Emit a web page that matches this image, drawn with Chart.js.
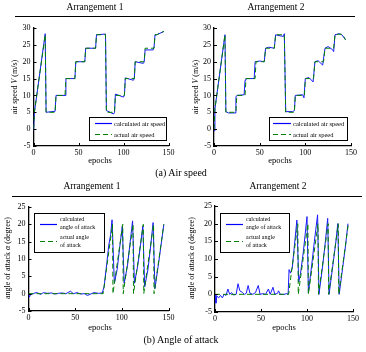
<!DOCTYPE html>
<html>
<head>
<meta charset="utf-8">
<script src="https://cdn.jsdelivr.net/npm/chart.js@4.4.1/dist/chart.umd.min.js"></script>
<style>
  body { margin: 0; background: #fff; }
  #fig { position: relative; width: 366px; height: 352px; overflow: hidden; background: #fff;
         font-family: "Liberation Serif", "Times New Roman", serif; color: #000; }
  #fig canvas { position: absolute; left: 0; top: 0; }
  .t { position: absolute; white-space: nowrap; transform: translate(-50%, -50%); line-height: 1; }
  .rot { transform: translate(-50%, -50%) rotate(-90deg); }
  .rule { position: absolute; border-top: 1px solid #000; height: 0; }
  .leg { position: absolute; border: 1px solid #000; background: #fff; z-index: 5; box-sizing: border-box; }
  .legtxt { position: absolute; white-space: nowrap; line-height: 1; transform: translateY(-50%); z-index: 6; }
  .legline { position: absolute; z-index: 6; }
</style>
</head>
<body>
<div id="fig">
  <canvas id="c1" width="366" height="352"></canvas>
  <canvas id="c2" width="366" height="352"></canvas>
  <canvas id="c3" width="366" height="352"></canvas>
  <canvas id="c4" width="366" height="352"></canvas>

  <!-- titles / rules / captions -->
  <div class="t" style="left:95px;top:8px;font-size:9.5px">Arrangement 1</div>
  <div class="t" style="left:276px;top:8px;font-size:9.5px">Arrangement 2</div>
  <div class="rule" style="left:15px;top:16px;width:340px"></div>
  <div class="t" style="left:181px;top:173px;font-size:10px">(a) Air speed</div>

  <div class="t" style="left:92px;top:187px;font-size:9.5px">Arrangement 1</div>
  <div class="t" style="left:278px;top:187px;font-size:9.5px">Arrangement 2</div>
  <div class="rule" style="left:12px;top:196px;width:350px"></div>
  <div class="t" style="left:181px;top:340px;font-size:10px">(b) Angle of attack</div>

  <!-- axis titles -->
  <div class="t rot" style="left:15px;top:87px;font-size:8px">air speed <i>V</i> (m/s)</div>
  <div class="t rot" style="left:196px;top:87px;font-size:8px">air speed <i>V</i> (m/s)</div>
  <div class="t" style="left:100px;top:160px;font-size:8.5px">epochs</div>
  <div class="t" style="left:280px;top:160px;font-size:8.5px">epochs</div>

  <div class="t rot" style="left:8px;top:258px;font-size:8px">angle of attack <i>α</i> (degree)</div>
  <div class="t rot" style="left:192px;top:258px;font-size:8px">angle of attack <i>α</i> (degree)</div>
  <div class="t" style="left:100px;top:327px;font-size:8.5px">epochs</div>
  <div class="t" style="left:284px;top:327px;font-size:8.5px">epochs</div>

  <!-- legends -->
  <div class="leg" style="left:89px;top:117px;width:78px;height:24px"></div>
  <svg class="legline" style="left:95px;top:122px" width="17" height="3"><line x1="0" y1="1.5" x2="17" y2="1.5" stroke="#0000ff" stroke-width="1.2"/></svg>
  <svg class="legline" style="left:95px;top:133px" width="17" height="3"><line x1="0" y1="1.5" x2="17" y2="1.5" stroke="#008000" stroke-width="1.2" stroke-dasharray="5 3"/></svg>
  <div class="legtxt" style="left:114px;top:123.5px;font-size:6.5px">calculated air speed</div>
  <div class="legtxt" style="left:114px;top:134.5px;font-size:6.5px">actual air speed</div>

  <div class="leg" style="left:269px;top:117px;width:79px;height:24px"></div>
  <svg class="legline" style="left:273px;top:122px" width="18" height="3"><line x1="0" y1="1.5" x2="18" y2="1.5" stroke="#0000ff" stroke-width="1.2"/></svg>
  <svg class="legline" style="left:273px;top:133px" width="18" height="3"><line x1="0" y1="1.5" x2="18" y2="1.5" stroke="#008000" stroke-width="1.2" stroke-dasharray="5 3"/></svg>
  <div class="legtxt" style="left:293px;top:123.5px;font-size:6.5px">calculated air speed</div>
  <div class="legtxt" style="left:293px;top:134.5px;font-size:6.5px">actual air speed</div>

  <div class="leg" style="left:34px;top:213px;width:71px;height:40px"></div>
  <svg class="legline" style="left:40px;top:223px" width="17" height="3"><line x1="0" y1="1.5" x2="17" y2="1.5" stroke="#0000ff" stroke-width="1.2"/></svg>
  <svg class="legline" style="left:40px;top:240px" width="17" height="3"><line x1="0" y1="1.5" x2="17" y2="1.5" stroke="#008000" stroke-width="1.2" stroke-dasharray="5 3"/></svg>
  <div class="legtxt" style="left:60px;top:219px;font-size:6px">calculated</div>
  <div class="legtxt" style="left:60px;top:227px;font-size:6px">angle of attack</div>
  <div class="legtxt" style="left:60px;top:237px;font-size:6px">actual angle</div>
  <div class="legtxt" style="left:60px;top:245px;font-size:6px">of attack</div>

  <div class="leg" style="left:220px;top:213px;width:70px;height:40px"></div>
  <svg class="legline" style="left:226px;top:223px" width="17" height="3"><line x1="0" y1="1.5" x2="17" y2="1.5" stroke="#0000ff" stroke-width="1.2"/></svg>
  <svg class="legline" style="left:226px;top:240px" width="17" height="3"><line x1="0" y1="1.5" x2="17" y2="1.5" stroke="#008000" stroke-width="1.2" stroke-dasharray="5 3"/></svg>
  <div class="legtxt" style="left:246px;top:219px;font-size:6px">calculated</div>
  <div class="legtxt" style="left:246px;top:227px;font-size:6px">angle of attack</div>
  <div class="legtxt" style="left:246px;top:237px;font-size:6px">actual angle</div>
  <div class="legtxt" style="left:246px;top:245px;font-size:6px">of attack</div>
</div>

<script>
// tick labels
const epochTicks = [0, 50, 100, 150];
const speedTicks = [-5, 0, 5, 10, 15, 20, 25, 30];
const aoaTicks = [-5, 0, 5, 10, 15, 20, 25];

// (a) air speed, arrangement 1
const speedActX1 = [0, 1, 13, 14, 24, 25, 35, 36, 46, 47, 57, 58, 69, 70, 80, 81, 90, 91, 101, 102, 112, 113, 123, 124, 134, 135, 137, 145];
const speedActY1 = [0, 5, 28, 5, 5, 10, 10, 15, 15, 20, 20, 24, 24, 28, 28, 5, 5, 10, 10, 15, 15, 20, 20, 24, 24, 28, 28, 29];
const speedCalcX1 = [0, 1, 13, 14, 24, 25, 35, 36, 46, 47, 57, 58, 69, 70, 80, 81, 89, 90, 91, 100, 101, 102, 111, 112, 113, 122, 123, 124, 133, 134, 135, 137, 145];
const speedCalcY1 = [-0.5, 5, 28.3, 5, 5.3, 10, 10, 15, 15, 20, 20, 24, 24, 28, 28.2, 5.5, 4.5, 5, 10.4, 9.5, 10, 15.2, 14.5, 15, 20, 19.5, 20, 23.5, 23.5, 24.5, 28, 28, 29];

// (a) air speed, arrangement 2
const speedActX2 = [0, 1, 12, 13, 24, 25, 34, 35, 45, 46, 55, 56.5, 66, 67.5, 77, 78.5, 88, 89, 99, 100, 109, 110.5, 120, 121.5, 131, 132.5, 138, 141, 144];
const speedActY2 = [0, 6, 28, 5, 5, 10, 10, 15, 15, 20, 20, 24, 24, 28, 28, 5, 5, 10, 10, 15, 15, 20, 20, 24, 24, 28, 28.2, 28, 26.5];
const speedCalcX2 = [0, 1, 12, 13, 16, 23, 24, 25, 33, 34, 35, 44, 45, 50, 55, 56.5, 60, 66, 67.5, 70, 76, 77, 78.5, 86, 88, 89, 97, 98.5, 100, 104, 108.5, 110.5, 114, 119, 121.5, 125, 130, 131, 132.5, 137, 140, 144];
const speedCalcY2 = [-0.5, 6, 28, 5.2, 4.8, 4.8, 9.5, 10, 10.2, 14.5, 15, 15, 20, 20.2, 20, 24, 24.3, 24, 28, 27.8, 27.5, 28.3, 5.2, 5.2, 5.5, 10, 10.2, 9.3, 15, 15.3, 14, 20, 20.3, 19, 24, 24.5, 23.5, 23, 28, 28.3, 28, 26.5];

// (b) angle of attack, actual (same in both arrangements)
const aoaActX = [0, 80, 90, 90.5, 101, 101.5, 112, 112.5, 123, 123.5, 134, 134.5, 145];
const aoaActY = [0, 0, 20, 0, 20, 0, 20, 0, 20, 0, 20, 0, 20];

// (b) angle of attack, calculated, arrangement 1
const aoaCalcX1 = [0, 1, 2, 5, 8, 10, 13, 16, 20, 25, 28, 32, 36, 40, 45, 48, 52, 56, 60, 63, 66, 70, 75, 79, 81, 84, 86, 88, 89.5, 92, 95, 98, 100.5, 102.5, 106, 109, 111.5, 113.5, 117, 120, 122.5, 124.5, 128, 131, 133.5, 135.5, 139, 142, 145];
const aoaCalcY1 = [0, -1, -0.3, 0, 0.3, 0.2, -0.2, 0.3, 0.1, 0.2, -0.1, 0.1, 0.2, 0, 0.7, 0, 0.3, -0.1, 0, -0.5, -0.2, 0.3, 0.1, 0.2, 2, 9, 14, 17, 21.3, 3, 7, 14, 19.5, 3, 8, 15, 21, 3, 8, 14, 19.5, 2, 7, 14, 20.5, 1.5, 8, 14, 20];

// (b) angle of attack, calculated, arrangement 2
const aoaCalcX2 = [0, 1, 2, 4, 6, 8, 10, 12, 14, 16, 18, 20, 23, 25, 27, 30, 32, 34, 36, 38, 41, 44, 47, 49, 52, 55, 58, 60, 63, 65, 68, 69, 71, 75, 78, 79.5, 80.5, 82, 84, 86, 89, 91, 93, 96, 100, 101.5, 105, 108, 111.5, 113, 117, 120, 122.5, 124, 128, 131, 133.5, 135, 139, 142, 144.5];
const aoaCalcY2 = [0, -2.5, -0.5, -1, -0.3, -1, 0, -0.3, 1.5, 0, 0.5, -0.2, 0, 3, 1, 0.5, 0, 0.3, 2.5, 0.3, 0, 0.5, 2.5, 0, 0.2, 0, 1.5, 0, 2, 0, 0.3, 1, 0, 0, 0.2, 0, 7, 6, 7.5, 13, 21, 3.5, 6, 12, 22, 0.5, 8, 15, 22.5, 0, 8, 15, 21.5, 0, 8, 14, 20, 0, 8, 14, 20];

const FONT = "'Liberation Serif', 'Times New Roman', serif";

function pts(xs, ys) {
  return xs.map((x, i) => ({ x: x, y: ys[i] }));
}

// MATLAB style ticks pointing into the plot
const inwardTicks = {
  id: "inwardTicks",
  afterDatasetsDraw(chart) {
    const { ctx, chartArea: a, scales } = chart;
    ctx.save();
    ctx.strokeStyle = "#000";
    ctx.lineWidth = 1;
    scales.x.ticks.forEach(t => {
      const px = Math.round(scales.x.getPixelForValue(t.value)) + 0.5;
      ctx.beginPath(); ctx.moveTo(px, a.bottom); ctx.lineTo(px, a.bottom - 3); ctx.stroke();
    });
    scales.y.ticks.forEach(t => {
      const py = Math.round(scales.y.getPixelForValue(t.value)) + 0.5;
      ctx.beginPath(); ctx.moveTo(a.left, py); ctx.lineTo(a.left + 3, py); ctx.stroke();
    });
    ctx.restore();
  }
};

function makeChart(id, calc, actual, yTicks, area) {
  // area: chart area edges in page pixels
  const yW = 20, xH = 12;
  return new Chart(document.getElementById(id), {
    type: "line",
    data: {
      datasets: [
        { label: "actual", data: actual, borderColor: "#008000", borderWidth: 1, borderDash: [5, 3],
          pointRadius: 0, tension: 0, fill: false },
        { label: "calculated", data: calc, borderColor: "#1a1aff", borderWidth: 1,
          pointRadius: 0, tension: 0, fill: false }
      ]
    },
    options: {
      responsive: false,
      animation: false,
      events: [],
      layout: { padding: { left: area.l - yW, right: 366 - area.r, top: area.t, bottom: 352 - area.b - xH } },
      plugins: { legend: { display: false }, tooltip: { enabled: false } },
      scales: {
        x: {
          type: "linear",
          min: epochTicks[0], max: epochTicks[epochTicks.length - 1],
          afterFit: s => { s.height = xH; },
          afterBuildTicks: s => { s.ticks = epochTicks.map(v => ({ value: v })); },
          ticks: { font: { family: FONT, size: 8 }, color: "#000", padding: 2, maxRotation: 0 },
          grid: { display: false, drawTicks: false },
          border: { display: true, color: "#000", width: 1.3 }
        },
        y: {
          min: yTicks[0], max: yTicks[yTicks.length - 1],
          afterFit: s => { s.width = yW; },
          afterBuildTicks: s => { s.ticks = yTicks.map(v => ({ value: v })); },
          ticks: { font: { family: FONT, size: 8 }, color: "#000", padding: 3 },
          grid: { display: false, drawTicks: false },
          border: { display: true, color: "#000", width: 1.3 }
        }
      }
    },
    plugins: [inwardTicks]
  });
}

makeChart("c1", pts(speedCalcX1, speedCalcY1), pts(speedActX1, speedActY1), speedTicks, { l: 33.5, r: 168.5, t: 28, b: 146 });
makeChart("c2", pts(speedCalcX2, speedCalcY2), pts(speedActX2, speedActY2), speedTicks, { l: 214, r: 351, t: 28, b: 146 });
makeChart("c3", pts(aoaCalcX1, aoaCalcY1), pts(aoaActX, aoaActY), aoaTicks, { l: 28.5, r: 168.5, t: 207, b: 311 });
makeChart("c4", pts(aoaCalcX2, aoaCalcY2), pts(aoaActX, aoaActY), aoaTicks, { l: 215, r: 353, t: 206, b: 312 });
</script>
</body>
</html>
